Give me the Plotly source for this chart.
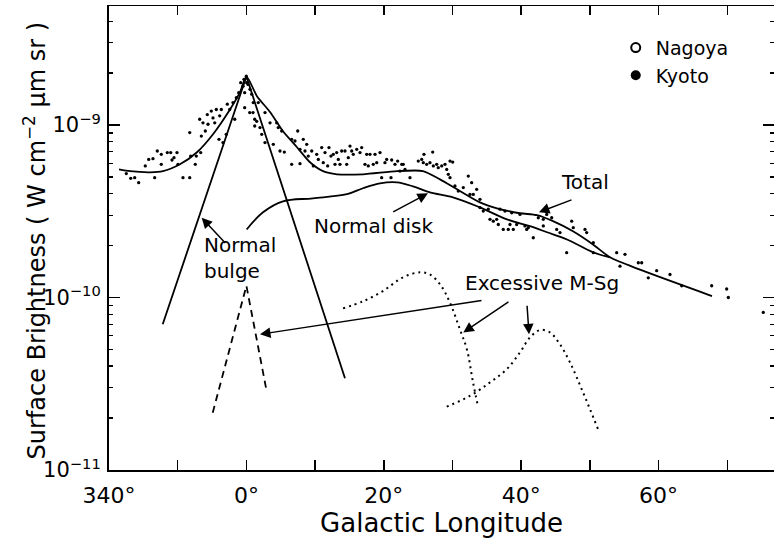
import math
import plotly.graph_objects as go

# ---- data (brightness in units of 1e-10 W cm^-2 um^-1 sr^-1, longitude in degrees) ----
UNIT = 1e-10

lon_kyoto = [
    -17.48, -16.84, -16.26, -15.68, -14.72, -14.22, -13.60, -13.35, -12.97, -12.39,
    -12.39, -11.51, -11.02, -10.83, -10.54, -10.10, -9.96, -9.23, -8.25, -8.25,
    -8.11, -7.44, -7.29, -6.65, -6.80, -6.56, -6.32, -5.98, -5.69, -5.59,
    -5.11, -4.86, -4.61, -4.38, -3.99, -3.89, -3.65, -3.41, -2.93, -2.78,
    -2.43, -1.95, -1.70, -1.47, -1.12, -0.83, -0.49, -0.35, -0.25, -0.01,
    0.23, -0.25, 0.48, 0.96, 1.21, 1.21,
    0.04, 0.52, 0.77, 1.00, 1.50, 1.73, 1.98, 2.23, 2.71, 2.71,
    3.44, 3.92, 4.41, 4.64, 4.89, 5.14, 5.52, 6.59, 6.59, 7.07,
    7.47, 7.80, 7.80, 8.28, 8.53, 8.78, 9.01, 9.51, 9.74, 10.23,
    10.47, 10.96, 11.19, 11.44, 11.83, 12.02, 12.31, 12.65, 12.90, 13.14,
    13.38, 13.62, 13.87, 14.35, 14.60, 14.83, 15.08, 15.33, 15.56, 16.06,
    16.54, 16.78, 17.26, 17.51, 17.74, 17.99, 18.47, 18.72, 18.97, 19.45,
    19.69, 20.17, 20.42, 21.05, 21.15, 21.63, 22.02, 22.36, 22.61,
    22.84, 23.09, 23.81, 25.02, 25.52, 25.75, 25.85, 26.24, 26.72, 27.12,
    27.21, 27.70, 27.93, 28.43, 28.91, 29.16, 29.39, 29.64, 29.64, 30.03,
    30.36, 30.84, 31.57, 32.30, 32.79, 32.55, 33.03, 33.52, 34.00, 34.00,
    34.48, 35.21, 35.46, 35.94, 36.43, 36.67, 36.91, 37.39, 37.64, 38.12,
    38.37, 38.62, 38.85, 39.34, 39.83, 40.55, 40.80, 41.03, 41.76, 42.49,
    43.22, 43.71, 43.22, 44.44, 45.17,
    45.65, 46.62, 47.35, 47.58, 49.29, 49.53, 50.50, 50.50, 53.90, 55.11,
    54.38, 57.05, 57.54, 58.50, 59.72, 61.66, 63.36, 67.73, 69.91, 70.15, 75.24,
]
b_kyoto = [
    5.23, 4.91, 4.95, 4.63, 5.79, 6.32, 6.38, 4.95, 7.07, 6.76,
    5.92, 6.92, 6.92, 6.27, 6.47, 6.92, 5.92, 4.95, 4.95, 9.04,
    6.61, 5.92, 6.61, 6.92, 10.8, 8.63, 10.3, 9.23, 11.5, 10.1,
    12.05, 11.0, 10.3, 12.3, 8.26, 11.3, 12.3, 7.91, 8.83, 13.2,
    12.3, 13.5, 10.8, 14.4, 15.4, 17.6, 16.8, 18.4, 15.4, 19.2,
    17.2, 12.6, 11.8, 11.8, 10.8, 9.87,
    17.6, 16.1, 15.1, 13.5, 10.5, 13.5, 9.66, 8.83, 11.8, 7.91,
    10.3, 7.73, 10.3, 9.66, 7.07, 9.23, 6.97, 8.26, 5.92, 8.08,
    9.23, 5.97, 7.23, 8.26, 7.07, 7.73, 6.61, 7.07, 5.79, 6.76,
    6.32, 7.40, 6.05, 6.92, 5.79, 7.40, 6.61, 6.76, 5.92, 6.92,
    6.32, 5.92, 7.07, 7.07, 5.92, 6.47, 7.55, 7.07, 6.76, 7.23,
    6.92, 7.40, 5.92, 6.76, 5.79, 6.76, 5.92, 6.76, 6.05, 6.92,
    4.95, 6.05, 6.32, 4.95, 6.27, 5.92, 6.18, 5.41, 5.92,
    5.92, 5.53, 4.95, 6.18, 6.32, 6.05, 6.76, 5.92, 6.05, 6.97,
    5.79, 5.92, 5.66, 5.79, 5.92, 5.53, 5.18, 6.18, 4.95, 6.10,
    4.43, 4.14, 4.34, 5.06, 4.63, 3.96, 3.96, 4.24, 3.71, 3.32,
    3.17, 3.25, 2.84, 2.77, 2.84, 2.65, 3.25, 2.48, 3.17, 2.48,
    2.65, 3.10, 2.48, 2.65, 3.03, 2.60, 2.48, 2.54, 2.22, 2.90,
    2.84, 3.03, 2.60, 2.90, 2.48,
    2.38, 1.82, 2.77, 2.54, 2.48, 2.38, 2.08, 1.82, 1.82, 1.78,
    1.52, 1.59, 1.59, 1.30, 1.43, 1.36, 1.17, 1.17, 1.12, 1.00, 0.82,
]

lon_total = [-18.54, -16.94, -14.03, -12.14, -9.67, -7.19, -4.86, -2.39, -0.93, 0.0,
             1.54, 3.44, 5.33, 7.37, 9.26, 11.15, 13.19, 16.97, 21.92, 25.7,
             28.18, 30.66, 34.0, 36.48, 39.83, 42.3, 44.63, 47.54, 50.45, 52.93,
             57.3, 67.77]
b_total = [5.53, 5.40, 5.32, 5.40, 5.92, 6.95, 8.84, 12.3, 15.5, 19.1,
           14.7, 11.9, 9.2, 7.43, 6.08, 5.40, 5.18, 5.18, 5.40, 5.41,
           4.84, 4.24, 3.56, 3.29, 3.08, 3.00, 2.77, 2.42, 2.03, 1.71,
           1.45, 1.02]

lon_disk = [0.04, 2.42, 5.33, 9.69, 14.64, 16.97, 19.45, 21.92, 24.25, 26.72,
            30.07, 34.0, 37.93, 41.28, 43.76, 46.67, 50.45, 52.93]
b_disk = [2.48, 3.12, 3.61, 3.76, 3.97, 4.30, 4.59, 4.65, 4.41, 4.07,
          3.81, 3.33, 2.84, 2.59, 2.39, 2.17, 1.83, 1.71]

lon_bulge = [-12.18, 0.0, 14.35]
b_bulge = [0.70, 19.1, 0.34]

lon_msg_center = [-4.9, 0.0, 2.85]
b_msg_center = [0.215, 1.17, 0.30]

lon_msg_25 = [14.06, 16.97, 19.88, 22.8, 25.27, 26.7, 28.2, 29.6, 31.1, 32.1, 33.0, 33.7]
b_msg_25 = [0.865, 0.95, 1.09, 1.31, 1.40, 1.36, 1.19, 0.94, 0.65, 0.50, 0.32, 0.235]

lon_msg_43 = [29.16, 32.55, 35.46, 37.9, 39.83, 41.28, 42.74, 44.19, 45.65, 47.1, 49.0, 51.2]
b_msg_43 = [0.233, 0.269, 0.322, 0.384, 0.481, 0.587, 0.648, 0.628, 0.535, 0.421, 0.282, 0.172]

x_tick_vals = [-20, -10, 0, 10, 20, 30, 40, 50, 60, 70]
x_tick_text = ["340°", "", "0°", "", "20°", "", "40°", "", "60°", ""]
y_tick_vals = [1e-11, 1e-10, 1e-9]
y_tick_text = ["10<sup>−11</sup>", "10<sup>−10</sup>", "10<sup>−9</sup>"]

FONT = "DejaVu Sans"
X_RANGE = [-20, 76.8]
Y_RANGE = [-11, -8.31]


def sc(vals):
    return [v * UNIT for v in vals]


def L(v):
    return math.log10(v * UNIT)


fig = go.Figure()

line_style = dict(color="black", width=1.8)

fig.add_trace(go.Scatter(x=lon_kyoto, y=sc(b_kyoto), mode="markers",
                         marker=dict(color="black", size=3.3),
                         showlegend=False, legendgroup="kyoto", hoverinfo="skip"))
fig.add_trace(go.Scatter(x=lon_total, y=sc(b_total), mode="lines",
                         line=dict(shape="spline", smoothing=0.7, **line_style),
                         showlegend=False, hoverinfo="skip"))
fig.add_trace(go.Scatter(x=lon_disk, y=sc(b_disk), mode="lines",
                         line=dict(shape="spline", smoothing=1.0, **line_style),
                         showlegend=False, hoverinfo="skip"))
fig.add_trace(go.Scatter(x=lon_bulge, y=sc(b_bulge), mode="lines",
                         line=line_style, showlegend=False, hoverinfo="skip"))
fig.add_trace(go.Scatter(x=lon_msg_center, y=sc(b_msg_center), mode="lines",
                         line=dict(color="black", width=1.8, dash="7px,5px"),
                         showlegend=False, hoverinfo="skip"))
fig.add_trace(go.Scatter(x=lon_msg_25, y=sc(b_msg_25), mode="lines",
                         line=dict(color="black", width=2, dash="2px,4px", shape="spline"),
                         showlegend=False, hoverinfo="skip"))
fig.add_trace(go.Scatter(x=lon_msg_43, y=sc(b_msg_43), mode="lines",
                         line=dict(color="black", width=2, dash="2px,4px", shape="spline"),
                         showlegend=False, hoverinfo="skip"))

# legend entries
fig.add_trace(go.Scatter(x=[None], y=[None], mode="markers", name="Nagoya",
                         marker=dict(symbol="circle-open", size=9, color="black",
                                     line=dict(width=2, color="black"))))
fig.add_trace(go.Scatter(x=[None], y=[None], mode="markers", name="Kyoto",
                         legendgroup="kyoto",
                         marker=dict(symbol="circle", size=10, color="black")))

# dummy trace to activate the mirrored top/right axes
fig.add_trace(go.Scatter(x=[None], y=[None], xaxis="x2", yaxis="y2",
                         showlegend=False, hoverinfo="skip"))

minor_vals = [m * 10 ** e for e in (-11, -10, -9) for m in range(2, 10)]

ann = []
text_font = dict(family=FONT, size=20, color="black")
for txt, lx, bv in [("Normal disk", 18.57, 2.59), ("Total", 49.29, 4.66),
                    ("Excessive M-Sg", 43.03, 1.21)]:
    ann.append(dict(x=lx, y=L(bv), xref="x", yref="y", text=txt, showarrow=False,
                    font=text_font, xanchor="center", yanchor="middle"))
ann.append(dict(x=-6.46, y=L(1.69), xref="x", yref="y", text="Normal<br>bulge",
                showarrow=False, font=text_font, xanchor="left", yanchor="middle",
                align="left"))

# y-axis title placed as a rotated annotation
ann.append(dict(x=-0.111, y=0.493, xref="paper", yref="paper",
                text="Surface Brightness ( W cm<sup>−2</sup> μm sr )",
                textangle=-90, showarrow=False, xanchor="center", yanchor="middle",
                font=dict(family=FONT, size=24, color="black")))

arrows = [
    ((-2.87, 2.03), (-6.51, 2.90)),
    ((21.15, 3.10), (26.43, 4.02)),
    ((47.54, 3.71), (42.59, 3.12)),
    ((34.44, 0.964), (1.98, 0.612)),
    ((38.37, 0.955), (31.57, 0.627)),
    ((40.84, 0.914), (41.14, 0.612)),
]
for (tx, tb), (hx, hb) in arrows:
    ann.append(dict(x=hx, y=L(hb), ax=tx, ay=L(tb), xref="x", yref="y",
                    axref="x", ayref="y", text="", showarrow=True,
                    arrowhead=2, arrowsize=1.4, arrowwidth=1.5, arrowcolor="black",
                    standoff=0, startstandoff=0))

fig.update_layout(
    width=774, height=539,
    margin=dict(l=109, r=0, t=6, b=69),
    paper_bgcolor="white", plot_bgcolor="white",
    font=dict(family=FONT, color="black"),
    showlegend=True,
    legend=dict(x=0.762, y=0.951, xanchor="left", yanchor="top",
                font=dict(family=FONT, size=19, color="black"),
                bgcolor="rgba(0,0,0,0)", itemwidth=30, tracegroupgap=0),
    annotations=ann,
    xaxis=dict(range=X_RANGE, tickmode="array", tickvals=x_tick_vals, ticktext=x_tick_text,
               ticks="inside", ticklen=10, tickwidth=1.5, tickcolor="black",
               showline=True, linewidth=2, linecolor="black",
               showgrid=False, zeroline=False, automargin=False,
               tickfont=dict(family=FONT, size=22), ticklabelstandoff=5,
               title=dict(text="Galactic Longitude", font=dict(family=FONT, size=26),
                          standoff=0)),
    yaxis=dict(type="log", range=Y_RANGE, tickmode="array", tickvals=y_tick_vals,
               ticktext=y_tick_text, ticks="inside", ticklen=11, tickwidth=1.5,
               tickcolor="black", showline=True, linewidth=2, linecolor="black",
               showgrid=False, zeroline=False, automargin=False,
               minor=dict(tickmode="array", tickvals=minor_vals, ticks="inside",
                          ticklen=4, tickwidth=1.3, tickcolor="black", showgrid=False),
               tickfont=dict(family=FONT, size=21), ticklabelstandoff=2),
    xaxis2=dict(overlaying="x", side="top", anchor="y", range=X_RANGE,
                tickmode="array", tickvals=x_tick_vals, showticklabels=False,
                ticks="inside", ticklen=9, tickwidth=1.5, tickcolor="black",
                showline=True, linewidth=1.5, linecolor="black",
                showgrid=False, zeroline=False),
    yaxis2=dict(overlaying="y", side="right", anchor="x", type="log", range=Y_RANGE,
                tickmode="array", tickvals=y_tick_vals, showticklabels=False,
                ticks="inside", ticklen=11, tickwidth=1.5, tickcolor="black",
                showline=False, showgrid=False, zeroline=False,
                minor=dict(tickmode="array", tickvals=minor_vals, ticks="inside",
                           ticklen=4, tickwidth=1.3, tickcolor="black", showgrid=False)),
)

fig.write_html("out.html", config={"displayModeBar": False, "staticPlot": True},
               post_script="document.body.style.margin='0';document.body.style.padding='0';"
                           "document.body.style.overflow='hidden';")
